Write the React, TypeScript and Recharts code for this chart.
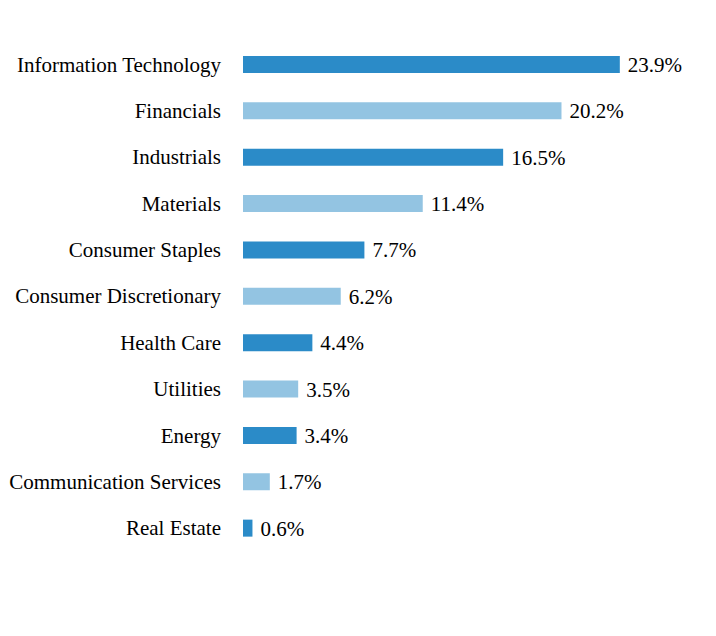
import React from "react";
import { BarChart, Bar, XAxis, YAxis, Cell, LabelList } from "recharts";

const sectors = [
  "Information Technology",
  "Financials",
  "Industrials",
  "Materials",
  "Consumer Staples",
  "Consumer Discretionary",
  "Health Care",
  "Utilities",
  "Energy",
  "Communication Services",
  "Real Estate",
];

const weights = [23.9, 20.2, 16.5, 11.4, 7.7, 6.2, 4.4, 3.5, 3.4, 1.7, 0.6];

const barColors = ["#2b8bc8", "#93c4e2"];

const data = sectors.map((name, i) => ({ name, value: weights[i] }));

const fontStyle = { fontFamily: "'Liberation Serif', 'Times New Roman', serif", fontSize: 21, fill: "#000" };

export default function App() {
  return (
    <div style={{ position: "absolute", left: 0, top: 0, background: "#fff" }}>
      <BarChart
        width={716}
        height={636}
        data={data}
        layout="vertical"
        margin={{ top: 41, right: 0, bottom: 85, left: 0 }}
        barCategoryGap={0}
      >
        <XAxis type="number" domain={[0, 30]} hide />
        <YAxis
          type="category"
          dataKey="name"
          width={243}
          axisLine={false}
          tickLine={false}
          tickSize={0}
          tickMargin={22}
          interval={0}
          tick={fontStyle}
        />
        <Bar dataKey="value" barSize={17} isAnimationActive={false}>
          {data.map((d, i) => (
            <Cell key={d.name} fill={barColors[i % 2]} />
          ))}
          <LabelList
            dataKey="value"
            position="right"
            offset={8}
            formatter={(v: any) => `${Number(v).toFixed(1)}%`}
            style={fontStyle}
          />
        </Bar>
      </BarChart>
    </div>
  );
}
